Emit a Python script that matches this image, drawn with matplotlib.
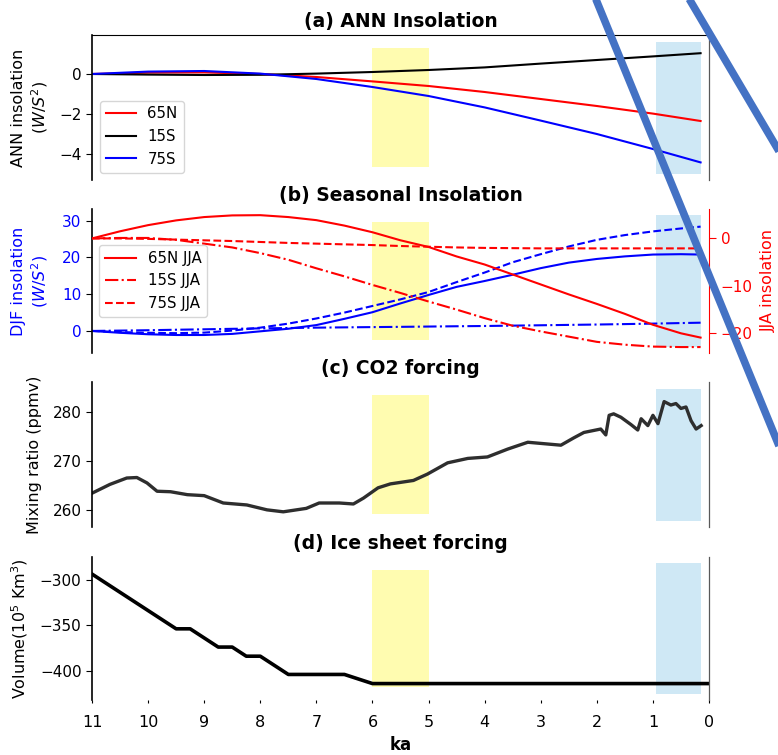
import matplotlib.pyplot as plt
from matplotlib.lines import Line2D

# ---- (a) annual insolation anomalies (W/m2) ----
ka_ann = [11, 10, 9, 8, 7, 6, 5, 4, 3, 2, 1, 0.15]
ann_65n = [0, 0.07, 0.08, 0.0, -0.15, -0.37, -0.6, -0.9, -1.25, -1.6, -1.98, -2.35]
ann_15s = [0, -0.03, -0.05, -0.04, 0.02, 0.1, 0.2, 0.33, 0.52, 0.7, 0.88, 1.04]
ann_75s = [0, 0.12, 0.15, 0.02, -0.25, -0.65, -1.1, -1.67, -2.33, -3.0, -3.75, -4.42]

# ---- (b) seasonal insolation anomalies ----
ka_sea = [11, 10.5, 10, 9.5, 9, 8.5, 8, 7.5, 7, 6.5, 6, 5.5, 5, 4.5, 4, 3.5, 3,
          2.5, 2, 1.5, 1, 0.5, 0.15]
djf_65n = [0, -0.5, -0.9, -1.1, -1.1, -0.8, -0.1, 0.6, 1.6, 3.3, 5.1, 7.5, 9.8,
           12.0, 13.6, 15.3, 17.1, 18.6, 19.6, 20.3, 20.8, 20.9, 20.8]
djf_15s = [0, 0.1, 0.2, 0.33, 0.45, 0.58, 0.7, 0.8, 0.9, 0.98, 1.05, 1.12, 1.2,
           1.28, 1.35, 1.45, 1.55, 1.65, 1.75, 1.87, 2.0, 2.15, 2.25]
djf_75s = [0, -0.3, -0.5, -0.6, -0.45, 0.1, 0.9, 2.0, 3.4, 5.0, 6.8, 8.6, 10.6,
           13.3, 15.9, 18.7, 20.9, 23.0, 24.8, 26.1, 27.1, 27.9, 28.4]
jja_65n = [0, 1.5, 2.8, 3.8, 4.5, 4.85, 4.9, 4.5, 3.85, 2.7, 1.3, -0.4, -1.8,
           -3.8, -5.5, -7.6, -9.7, -11.8, -13.8, -15.9, -18.2, -20.0, -20.9]
jja_15s = [0, 0.1, 0.1, -0.3, -1.1, -1.9, -3.1, -4.5, -6.3, -8.0, -9.8, -11.5,
           -13.3, -15.0, -16.8, -18.4, -19.6, -20.7, -21.8, -22.4, -22.8, -22.9, -22.9]
jja_75s = [0, 0, -0.1, -0.25, -0.4, -0.55, -0.75, -0.95, -1.1, -1.25, -1.4, -1.6,
           -1.75, -1.9, -2.0, -2.05, -2.1, -2.1, -2.1, -2.1, -2.1, -2.1, -2.1]

# ---- (c) CO2 (ppmv) ----
ka_co2 = [11.0, 10.68, 10.38, 10.2, 10.02, 9.84, 9.6, 9.3, 9.0, 8.66, 8.24, 7.88,
          7.59, 7.18, 6.95, 6.59, 6.34, 6.16, 5.9, 5.68, 5.27, 5.02, 4.66, 4.3,
          3.95, 3.59, 3.23, 2.64, 2.41, 2.23, 1.93, 1.84, 1.78, 1.7, 1.57, 1.39,
          1.27, 1.21, 1.09, 1.0, 0.91, 0.8, 0.68, 0.59, 0.5, 0.41, 0.32, 0.23, 0.14]
co2 = [263.4, 265.2, 266.5, 266.6, 265.5, 263.8, 263.7, 263.1, 262.9, 261.4,
       261.0, 260.0, 259.6, 260.3, 261.4, 261.4, 261.2, 262.4, 264.5, 265.3,
       266.0, 267.3, 269.6, 270.5, 270.8, 272.4, 273.8, 273.2, 274.7, 275.8,
       276.5, 275.3, 279.3, 279.6, 278.9, 277.4, 276.3, 278.6, 277.2, 279.3,
       277.6, 282.1, 281.4, 281.7, 280.7, 281.0, 278.2, 276.5, 277.2]

# ---- (d) ice sheet volume ----
ka_ice = [11, 9.5, 9.25, 8.75, 8.5, 8.25, 8.0, 7.5, 6.5, 6.0, 0.0]
ice = [-294, -354, -354, -374, -374, -384, -384, -404, -404, -414, -414]

# shaded periods (ka)
mid_holo = (6.0, 5.0)
pre_ind = (0.95, 0.15)

W, H = 778, 755
fig = plt.figure(figsize=(W / 100, H / 100), dpi=100)
plt.rcParams['font.size'] = 11


def box(top, bottom):
    return [92 / W, 1 - bottom / H, (709 - 92) / W, (bottom - top) / H]


def spans(ax):
    ax.axvspan(*mid_holo, ymin=0.09, ymax=0.91, color='#fffcb0', lw=0, zorder=0)
    ax.axvspan(*pre_ind, ymin=0.04, ymax=0.955, color='#cfe8f5', lw=0, zorder=0)


def base(ax):
    ax.set_xlim(11, 0)
    ax.spines['bottom'].set_visible(False)
    ax.spines['top'].set_visible(False)
    ax.spines['right'].set_color('0.35')
    ax.spines['right'].set_linewidth(0.9)
    ax.spines['left'].set_linewidth(1.2)
    ax.tick_params(axis='x', bottom=False, labelbottom=False)
    ax.tick_params(axis='y', labelsize=11, length=4)


# (a)
ax1 = fig.add_axes(box(35, 180))
base(ax1)
ax1.spines['top'].set_visible(True)
spans(ax1)
ax1.plot(ka_ann, ann_65n, color='red', lw=1.5, label='65N')
ax1.plot(ka_ann, ann_15s, color='black', lw=1.5, label='15S')
ax1.plot(ka_ann, ann_75s, color='blue', lw=1.5, label='75S')
ax1.set_ylim(-5.3, 1.95)
ax1.set_yticks([0, -2, -4])
ax1.set_ylabel('ANN insolation\n($W/S^2$)', fontsize=11.5)
ax1.yaxis.set_label_coords(-0.068, 0.5)
ax1.legend(loc='lower left', fontsize=10.8)
ax1.set_title('(a) ANN Insolation', fontsize=13.5, fontweight='bold')

# (b)
ax2 = fig.add_axes(box(209, 353))
base(ax2)
ax2.spines['right'].set_visible(False)
spans(ax2)
ax2.plot(ka_sea, djf_65n, color='blue', lw=1.5)
ax2.plot(ka_sea, djf_15s, color='blue', lw=1.5, ls='-.')
ax2.plot(ka_sea, djf_75s, color='blue', lw=1.5, ls='--')
ax2.set_ylim(-6.0, 33.2)
ax2.set_yticks([0, 10, 20, 30])
ax2.tick_params(axis='y', labelcolor='blue')
ax2.set_ylabel('DJF insolation\n($W/S^2$)', color='blue', fontsize=11.5)
ax2.yaxis.set_label_coords(-0.068, 0.5)
ax2.set_title('(b) Seasonal Insolation', fontsize=13.5, fontweight='bold')

ax2r = ax2.twinx()
ax2r.set_position(box(209, 353))
ax2r.set_xlim(11, 0)
for s in ['top', 'bottom', 'left']:
    ax2r.spines[s].set_visible(False)
ax2r.spines['right'].set_color('red')
ax2r.plot(ka_sea, jja_65n, color='red', lw=1.5, label='65N JJA')
ax2r.plot(ka_sea, jja_15s, color='red', lw=1.5, ls='-.', label='15S JJA')
ax2r.plot(ka_sea, jja_75s, color='red', lw=1.5, ls='--', label='75S JJA')
ax2r.set_ylim(-24.15, 6.2)
ax2r.set_yticks([0, -10, -20])
ax2r.tick_params(axis='y', colors='red', labelsize=11, length=5)
ax2r.set_ylabel('JJA insolation', color='red', fontsize=11.5)
ax2r.yaxis.set_label_coords(1.084, 0.5)
ax2r.legend(loc='center left', fontsize=10.8)

# (c)
ax3 = fig.add_axes(box(382, 527))
base(ax3)
spans(ax3)
ax3.plot(ka_co2, co2, color='#2e2e2e', lw=2.4)
ax3.set_ylim(256.5, 286.1)
ax3.set_yticks([260, 270, 280])
ax3.set_ylabel('Mixing ratio (ppmv)', fontsize=11.5)
ax3.yaxis.set_label_coords(-0.081, 0.5)
ax3.set_title('(c) CO2 forcing', fontsize=13.5, fontweight='bold')

# (d)
ax4 = fig.add_axes(box(557, 700))
base(ax4)
spans(ax4)
ax4.plot(ka_ice, ice, color='black', lw=2.6)
ax4.set_ylim(-432, -275.3)
ax4.set_yticks([-300, -350, -400])
ax4.set_ylabel('Volume(10$^5$ Km$^3$)', fontsize=11.5)
ax4.yaxis.set_label_coords(-0.1, 0.5)
ax4.set_title('(d) Ice sheet forcing', fontsize=13.5, fontweight='bold')
ax4.set_xticks(range(11, -1, -1))
ax4.tick_params(axis='x', bottom=True, labelbottom=True, length=2,
                pad=9, labelsize=11.5)
ax4.set_xlabel('ka', fontsize=12, fontweight='bold')

# overlaid annotation strokes on the picture
for (x0, y0), (x1, y1) in [((588, -20), (793, 480)), ((678, -20), (796, 180))]:
    fig.add_artist(Line2D([x0 / W, x1 / W], [1 - y0 / H, 1 - y1 / H],
                          transform=fig.transFigure, color='#4472c4',
                          lw=5.5, solid_capstyle='butt'))

fig.savefig('out.png', dpi=100)
